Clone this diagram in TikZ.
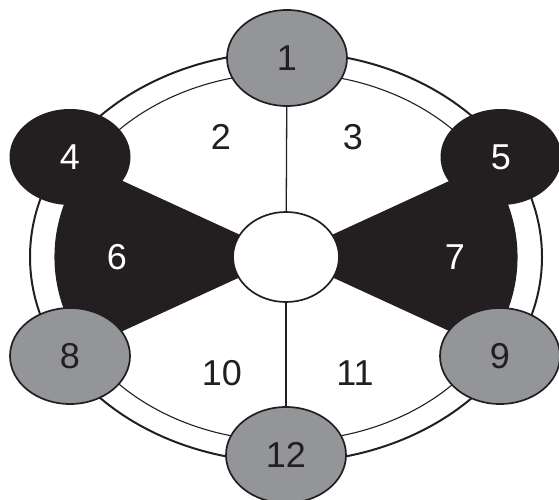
\documentclass[tikz,border=0pt]{standalone}
\usepackage{fontspec}
\setmainfont{Liberation Sans}
\usetikzlibrary{positioning,shapes.geometric}
\definecolor{seatgray}{RGB}{147,149,152}
\definecolor{seatblack}{RGB}{35,31,32}
\newcommand{\numfont}{\fontsize{36}{40}\selectfont}
\tikzset{
  seatlight/.style={ellipse, draw=seatblack, line width=1.7pt, fill=seatgray,
                    text=seatblack, font=\numfont, inner sep=0pt,
                    minimum width=120pt, minimum height=96pt},
  seatdark/.style={ellipse, fill=seatblack, text=white, font=\numfont,
                   inner sep=0pt, minimum width=121pt, minimum height=96pt},
  hubnode/.style={ellipse, draw=seatblack, line width=1.7pt, fill=white,
                  inner sep=0pt, minimum width=106pt, minimum height=90pt},
  zonelbl/.style={font=\numfont, text=seatblack},
  zonelblw/.style={font=\numfont, text=white},
  ringout/.style={draw=seatblack, line width=2pt},
  ringin/.style={draw=seatblack, line width=1.1pt},
  spoke/.style={draw=seatblack, line width=1.3pt},
}
\begin{document}
\begin{tikzpicture}[x=1pt,y=-1pt]
  \useasboundingbox (0,0) rectangle (559,500);

  % rings
  \draw[ringout] (286,257) ellipse [x radius=256, y radius=205];
  \draw[ringin]  (286,257) ellipse [x radius=231, y radius=184];

  % dark wedges 6 and 7
  \begin{scope}
    \clip (286,256) -- (-197,34) -- (-197,478) -- cycle;
    \fill[seatblack] (286,257) ellipse [x radius=231, y radius=184];
  \end{scope}
  \begin{scope}
    \clip (286,256) -- (769,34) -- (769,478) -- cycle;
    \fill[seatblack] (286,257) ellipse [x radius=231, y radius=184];
  \end{scope}

  \node[hubnode] (hub) at (286,257) {};

  \node[seatlight] (s1)  at (287,58)  {1};
  \node[seatlight] (s12) at (286,455) {12};
  \node[seatdark]  (s4)  at (70,157)  {4};
  \node[seatdark]  (s5)  at (501,157) {5};
  \node[seatlight] (s8)  at (70,356)  {8};
  \node[seatlight] (s9)  at (500,356) {9};

  \draw[spoke] (s1) -- (hub);
  \draw[spoke] (hub) -- (s12);

  \node[zonelbl]  (z2)  at (221,137) {2};
  \node[zonelbl]  (z3)  at (353,137) {3};
  \node[zonelblw] (z6)  at (117,257) {6};
  \node[zonelblw] (z7)  at (455,257) {7};
  \node[zonelbl]  (z10) at (222,373) {10};
  \node[zonelbl]  (z11) at (355,373) {11};
\end{tikzpicture}
\end{document}
